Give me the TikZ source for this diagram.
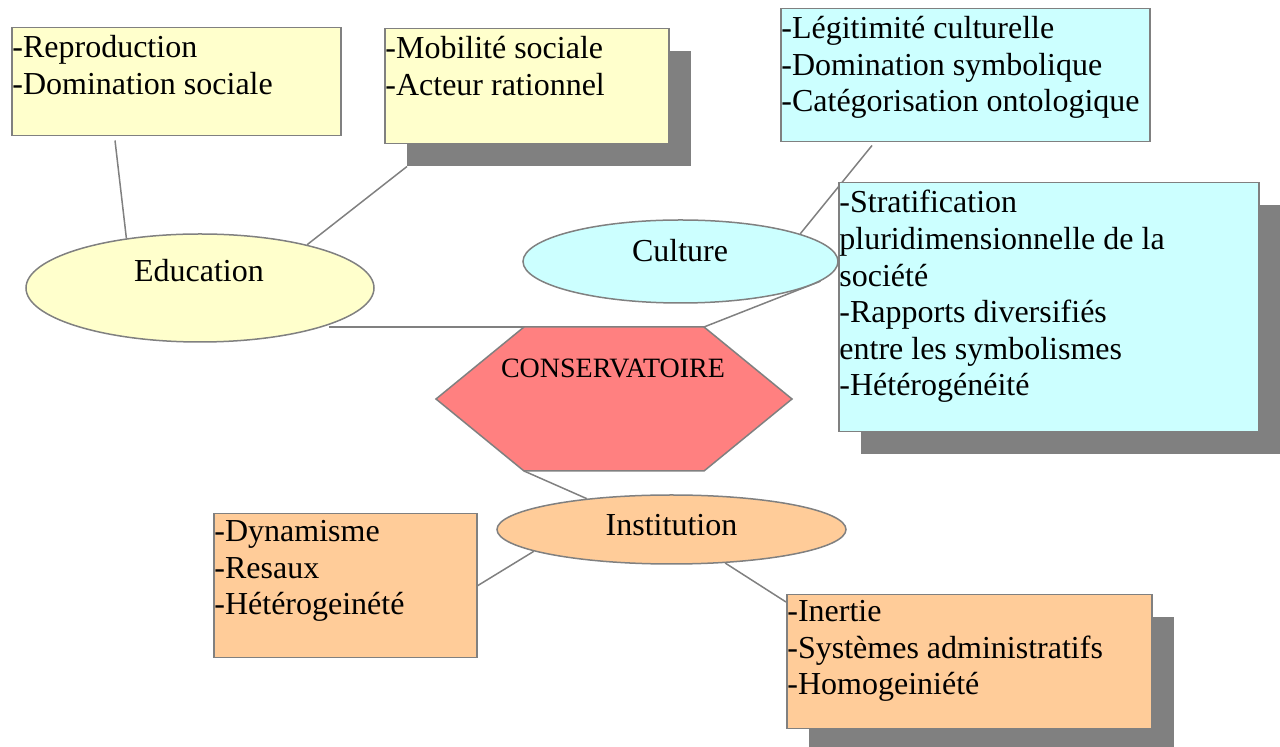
\documentclass[tikz,border=0pt]{standalone}
\usepackage{fontspec}
\setmainfont{Liberation Serif}
\usetikzlibrary{positioning,shapes.geometric,shadows,backgrounds}
\definecolor{eduyellow}{HTML}{FFFFCC}
\definecolor{culcyan}{HTML}{CCFFFF}
\definecolor{instorange}{HTML}{FFCC99}
\definecolor{consred}{HTML}{FF8080}
\definecolor{linegray}{HTML}{808080}
\definecolor{shadegray}{HTML}{808080}

\begin{document}
\begin{tikzpicture}[
  x=0.5pt, y=-0.5pt,
  every node/.style={font=\fontsize{16}{18.3}\selectfont},
  box/.style={draw=linegray, line width=0.75pt, anchor=north west, inner sep=0pt},
  shad/.style={drop shadow={shadow xshift=11pt, shadow yshift=-11pt,
                            opacity=1, fill=shadegray}},
  oval/.style={ellipse, draw=linegray, line width=0.75pt, inner sep=0pt},
  txt/.style={anchor=north west, inner sep=0pt, align=left,
              execute at begin node=\strut},
  lbl/.style={anchor=base, inner sep=0pt},
  con/.style={draw=linegray, line width=0.75pt}
]
\useasboundingbox (0,0) rectangle (1280,747);

%% Boxes
\node[box, fill=eduyellow, minimum width=164.5pt, minimum height=54pt]         (rep)   at (11,27)  {};
\node[box, shad, fill=eduyellow, minimum width=142pt, minimum height=57.5pt]   (mob)   at (384,28) {};
\node[box, fill=culcyan, minimum width=184.5pt, minimum height=66.5pt]         (leg)   at (780,8)  {};
\node[box, shad, fill=culcyan, minimum width=210pt, minimum height=124.5pt]    (strat) at (838,182) {};
\node[box, fill=instorange, minimum width=131.5pt, minimum height=72pt]        (dyn)   at (213,513) {};
\node[box, shad, fill=instorange, minimum width=182.5pt, minimum height=67pt]  (inert) at (786,594) {};

%% Box texts
\node[txt] (rep-t)   at ([shift={(1,8)}]rep.north west)   {-Reproduction\\-Domination sociale};
\node[txt] (mob-t)   at ([shift={(1,8)}]mob.north west)   {-Mobilité sociale\\-Acteur rationnel};
\node[txt] (leg-t)   at ([shift={(1,8)}]leg.north west)   {-Légitimité culturelle\\-Domination symbolique\\-Catégorisation ontologique};
\node[txt] (strat-t) at ([shift={(1,8)}]strat.north west) {-Stratification\\pluridimensionnelle de la\\société\\-Rapports diversifiés\\entre les symbolismes\\-Hétérogénéité};
\node[txt] (dyn-t)   at ([shift={(1,7)}]dyn.north west)   {-Dynamisme\\-Resaux\\-Hétérogeinété};
\node[txt] (inert-t) at ([shift={(1,6)}]inert.north west) {-Inertie\\-Systèmes administratifs\\-Homogeiniété};

%% Ellipses
\node[oval, fill=eduyellow, minimum width=174pt, minimum height=54pt]    (edu)  at (200,288)     {};
\node[oval, fill=culcyan, minimum width=157.5pt, minimum height=41.5pt]  (cul)  at (680.5,261.5) {};
\node[oval, fill=instorange, minimum width=174.5pt, minimum height=34.5pt] (inst) at (671.5,529.5) {};
\node[lbl] (edu-t)  at (199,282)   {Education};
\node[lbl] (cul-t)  at (680,262)   {Culture};
\node[lbl] (inst-t) at (671.5,536) {Institution};

%% Hexagon
\coordinate (hexTL) at (524,327);
\coordinate (hexTR) at (704,327);
\coordinate (hexR)  at (792,399);
\coordinate (hexBR) at (704,471);
\coordinate (hexBL) at (524,471);
\coordinate (hexL)  at (436,399);
\draw[fill=consred, draw=linegray, line width=0.75pt]
  (hexTL) -- (hexTR) -- (hexR) -- (hexBR) -- (hexBL) -- (hexL) -- cycle;
\node[lbl, font=\fontsize{14}{16}\selectfont] (cons) at (613,378) {CONSERVATOIRE};

%% Connectors
\begin{scope}[on background layer]
\draw[con] ([shift={(104,4)}]rep.south west) -- (edu.146);
\draw[con] ([shift={(23,22)}]mob.south west) -- (edu.22);
\draw[con] (hexTL -| edu.-16) -- (hexTL);
\draw[con] ([shift={(92,3)}]leg.south west) -- (cul.13);
\draw[con] (hexTR) -- (cul.-8);
\draw[con] (hexBL) -- (inst.160);
\draw[con] (inst.-171) -- (dyn.east);
\draw[con] (inst.-32) -- ([shift={(0,8)}]inert.north west);
\end{scope}
\end{tikzpicture}
\end{document}
